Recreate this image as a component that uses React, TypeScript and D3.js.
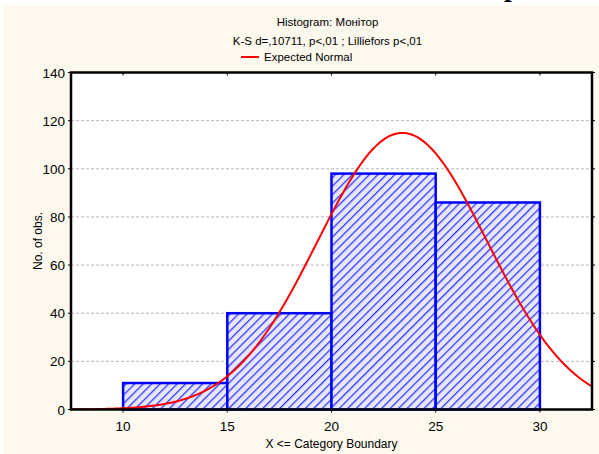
import React from 'react';
import * as d3 from 'd3';

// histogram bins (upper boundaries) and counts
const binEdges = [10, 15, 20, 25, 30];
const binCounts = [11, 40, 98, 86];
const xTicks = [10, 15, 20, 25, 30];
const yTicks = [0, 20, 40, 60, 80, 100, 120, 140];

// fitted normal (expected normal curve)
const normalMean = 23.4;
const normalSd = 4.08;
const totalObs = 235;

const W = 599;
const H = 454;
const margin = { top: 72.5, right: 7, bottom: 44.5, left: 71 };

const App: React.FC = () => {
  const x = d3.scaleLinear().domain([7.5, 32.5]).range([margin.left, W - margin.right]);
  const y = d3.scaleLinear().domain([0, 140]).range([H - margin.bottom, margin.top]);
  const binW = binEdges[1] - binEdges[0];

  const curvePts: [number, number][] = d3.range(7.5, 32.5001, 0.1).map(v => {
    const z = (v - normalMean) / normalSd;
    return [v, (totalObs * binW) / (normalSd * Math.sqrt(2 * Math.PI)) * Math.exp(-0.5 * z * z)];
  });
  const line = d3.line<[number, number]>().x(d => x(d[0])).y(d => y(d[1]));

  const font = '"Liberation Sans", Arial, sans-serif';
  const x0 = margin.left, x1 = W - margin.right;
  const y0 = H - margin.bottom, y1 = margin.top;
  const cx = (x0 + x1) / 2;

  return (
    <svg width={W} height={H} style={{ position: 'absolute', left: 0, top: 0, display: 'block' }}
      fontFamily={font}>
      <defs>
        <pattern id="hatch" width="6" height="6" patternUnits="userSpaceOnUse" patternTransform="rotate(45)">
          <rect width="6" height="6" fill="#e6e8ff" />
          <line x1="0" y1="0" x2="0" y2="6" stroke="#3436ff" strokeWidth="2.6" />
        </pattern>
        <clipPath id="plotClip">
          <rect x={x0} y={y1} width={x1 - x0} height={y0 - y1} />
        </clipPath>
      </defs>
      <rect x={0} y={0} width={W} height={H} fill="#ffffff" />
      <rect x={3} y={5} width={W - 3} height={H - 5} fill="#fef9ee" />
      <text x={504} y={-4} fontFamily='"Liberation Serif", serif' fontWeight="bold" fontSize={28} fill="#000">р</text>

      <text x={cx - 4} y={26} textAnchor="middle" fontSize={11.5}>Histogram: Монітор</text>
      <text x={cx - 4} y={45} textAnchor="middle" fontSize={11.5}>K-S d=,10711, p&lt;,01 ; Lilliefors p&lt;,01</text>
      <line x1={241} x2={259} y1={57} y2={57} stroke="#ff0000" strokeWidth={2} />
      <text x={264} y={61} fontSize={11.5}>Expected Normal</text>

      <rect x={x0} y={y1} width={x1 - x0} height={y0 - y1} fill="#ffffff" />

      {yTicks.slice(1, -1).map(t => (
        <line key={'g' + t} x1={x0} x2={x1} y1={y(t)} y2={y(t)} stroke="#b8b8b8" strokeDasharray="3,2" strokeWidth={1} />
      ))}

      {binCounts.map((c, i) => (
        <rect key={'b' + i} x={x(binEdges[i])} y={y(c)} width={x(binEdges[i + 1]) - x(binEdges[i])} height={y(0) - y(c)}
          fill="url(#hatch)" stroke="#0000ff" strokeWidth={2.5} />
      ))}

      <path d={line(curvePts) || ''} fill="none" stroke="#ff0000" strokeWidth={2} clipPath="url(#plotClip)" />

      <rect x={x0} y={y1} width={x1 - x0} height={y0 - y1} fill="none" stroke="#000" strokeWidth={2.5} />

      {xTicks.map(t => (
        <g key={'x' + t}>
          <line x1={x(t)} x2={x(t)} y1={y1} y2={y1 + 3} stroke="#000" strokeWidth={1} />
          <line x1={x(t)} x2={x(t)} y1={y0} y2={y0 + 3} stroke="#000" strokeWidth={1} />
          <text x={x(t)} y={y0 + 21} textAnchor="middle" fontSize={13.5}>{t}</text>
        </g>
      ))}
      {yTicks.map(t => (
        <g key={'y' + t}>
          <line x1={x0 - 3} x2={x0} y1={y(t)} y2={y(t)} stroke="#000" strokeWidth={1} />
          <line x1={x1} x2={x1 + 3} y1={y(t)} y2={y(t)} stroke="#000" strokeWidth={1} />
          <text x={x0 - 6} y={y(t) + 5} textAnchor="end" fontSize={13.5}>{t}</text>
        </g>
      ))}

      <text x={cx} y={448} textAnchor="middle" fontSize={12}>X &lt;= Category Boundary</text>
      <text transform={`translate(42,${(y0 + y1) / 2}) rotate(-90)`} textAnchor="middle" fontSize={12}>No. of obs.</text>
    </svg>
  );
};

export default App;
